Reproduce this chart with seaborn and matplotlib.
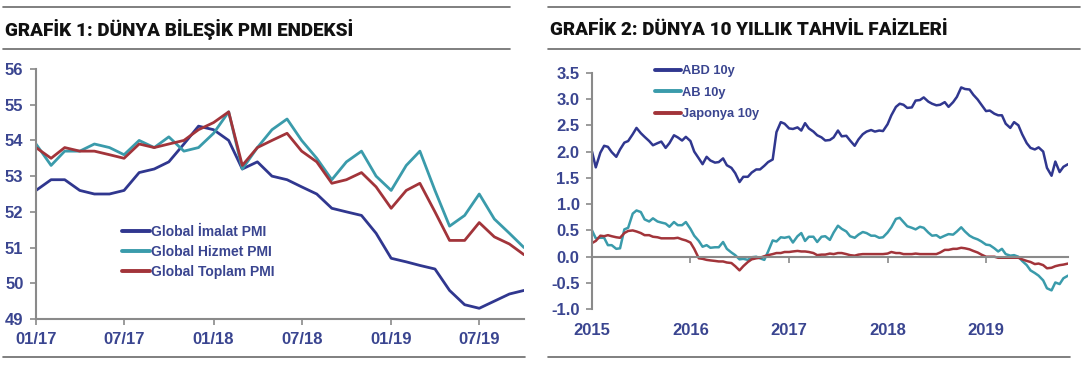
import pandas as pd
import matplotlib
matplotlib.use("Agg")
import matplotlib.pyplot as plt
import matplotlib.dates as mdates
from matplotlib.lines import Line2D
import seaborn as sns

# Grafik 1: aylik PMI, 01/2017 - 10/2019
pmi_months = pd.date_range("2017-01-01", periods=34, freq="MS")
imalat = [52.6, 52.9, 52.9, 52.6, 52.5, 52.5, 52.6, 53.1, 53.2, 53.4, 53.9, 54.4,
          54.3, 54.0, 53.2, 53.4, 53.0, 52.9, 52.7, 52.5, 52.1, 52.0, 51.9, 51.4,
          50.7, 50.6, 50.5, 50.4, 49.8, 49.4, 49.3, 49.5, 49.7, 49.8]
hizmet = [53.9, 53.3, 53.7, 53.7, 53.9, 53.8, 53.6, 54.0, 53.8, 54.1, 53.7, 53.8,
          54.2, 54.8, 53.2, 53.8, 54.3, 54.6, 54.0, 53.5, 52.9, 53.4, 53.7, 53.0,
          52.6, 53.3, 53.7, 52.6, 51.6, 51.9, 52.5, 51.8, 51.4, 51.0]
toplam = [53.8, 53.5, 53.8, 53.7, 53.7, 53.6, 53.5, 53.9, 53.8, 53.9, 54.0, 54.3,
          54.5, 54.8, 53.3, 53.8, 54.0, 54.2, 53.7, 53.4, 52.8, 52.9, 53.1, 52.7,
          52.1, 52.6, 52.8, 52.0, 51.2, 51.2, 51.7, 51.3, 51.1, 50.8]
pmi_labels = ["Global İmalat PMI", "Global Hizmet PMI", "Global Toplam PMI"]

# Grafik 2: 10 yillik tahvil faizleri, ayda iki gozlem (ayin 1'i ve 15'i)
faiz_dates = pd.date_range("2015-01-01", periods=117, freq="SMS")
abd = [2.00, 1.70, 1.98, 2.11, 2.09, 1.99, 1.90, 2.04, 2.17, 2.20,
       2.33, 2.45, 2.35, 2.28, 2.20, 2.12, 2.16, 2.19, 2.07, 2.16,
       2.31, 2.27, 2.21, 2.28, 2.20, 2.00, 1.87, 1.76, 1.90, 1.83,
       1.79, 1.80, 1.87, 1.74, 1.69, 1.59, 1.42, 1.52, 1.52, 1.60,
       1.66, 1.66, 1.73, 1.80, 1.85, 2.37, 2.56, 2.53, 2.44, 2.43,
       2.46, 2.40, 2.54, 2.44, 2.38, 2.31, 2.27, 2.21, 2.22, 2.27,
       2.40, 2.29, 2.30, 2.21, 2.11, 2.23, 2.33, 2.38, 2.41, 2.38,
       2.40, 2.39, 2.52, 2.69, 2.85, 2.91, 2.89, 2.83, 2.84, 2.97,
       2.98, 3.03, 2.95, 2.91, 2.88, 2.89, 2.94, 2.85, 2.94, 3.04,
       3.22, 3.19, 3.18, 3.08, 2.99, 2.89, 2.77, 2.78, 2.72, 2.69,
       2.69, 2.53, 2.45, 2.56, 2.50, 2.33, 2.16, 2.07, 2.04, 2.08,
       2.00, 1.69, 1.54, 1.81, 1.61, 1.71, 1.76]
ab = [0.50, 0.35, 0.36, 0.36, 0.22, 0.22, 0.15, 0.16, 0.52, 0.55,
      0.82, 0.88, 0.85, 0.71, 0.67, 0.73, 0.67, 0.65, 0.63, 0.57,
      0.66, 0.60, 0.60, 0.66, 0.53, 0.40, 0.30, 0.19, 0.22, 0.17,
      0.18, 0.18, 0.28, 0.15, 0.08, 0.03, -0.05, -0.04, -0.06, -0.01,
      0.00, -0.03, -0.06, 0.10, 0.31, 0.29, 0.37, 0.36, 0.38, 0.27,
      0.39, 0.45, 0.30, 0.38, 0.38, 0.28, 0.38, 0.39, 0.32, 0.46,
      0.59, 0.53, 0.48, 0.39, 0.36, 0.42, 0.47, 0.45, 0.40, 0.40,
      0.36, 0.37, 0.46, 0.56, 0.72, 0.74, 0.66, 0.58, 0.55, 0.52,
      0.57, 0.55, 0.46, 0.40, 0.41, 0.36, 0.40, 0.43, 0.42, 0.48,
      0.56, 0.48, 0.40, 0.36, 0.33, 0.29, 0.23, 0.22, 0.16, 0.10,
      0.15, 0.05, 0.02, 0.03, 0.00, -0.08, -0.16, -0.26, -0.31, -0.36,
      -0.45, -0.60, -0.64, -0.49, -0.52, -0.41, -0.36]
japonya = [0.26, 0.30, 0.40, 0.39, 0.41, 0.39, 0.37, 0.36, 0.45, 0.49,
           0.50, 0.48, 0.45, 0.41, 0.41, 0.38, 0.37, 0.35, 0.35, 0.35,
           0.35, 0.36, 0.33, 0.31, 0.27, 0.15, -0.03, -0.04, -0.06, -0.07,
           -0.08, -0.09, -0.09, -0.11, -0.12, -0.18, -0.26, -0.18, -0.10, -0.05,
           -0.03, -0.02, 0.01, 0.03, 0.05, 0.07, 0.07, 0.09, 0.09, 0.10,
           0.11, 0.10, 0.10, 0.09, 0.07, 0.03, 0.04, 0.04, 0.06, 0.05,
           0.07, 0.07, 0.05, 0.03, 0.02, 0.04, 0.05, 0.05, 0.05, 0.05,
           0.05, 0.05, 0.06, 0.09, 0.07, 0.07, 0.05, 0.05, 0.05, 0.06,
           0.05, 0.05, 0.05, 0.05, 0.05, 0.08, 0.13, 0.13, 0.15, 0.15,
           0.17, 0.16, 0.14, 0.11, 0.08, 0.04, 0.00, 0.00, 0.00, -0.02,
           -0.02, -0.02, -0.02, -0.02, -0.02, -0.05, -0.08, -0.10, -0.14, -0.13,
           -0.16, -0.22, -0.21, -0.18, -0.16, -0.15, -0.13]
faiz_labels = ["ABD 10y", "AB 10y", "Japonya 10y"]

NAVY = "#30378f"
TEAL = "#3a9bab"
RED = "#a2343a"
LABEL = "#3a4590"
SPINE = "#8a8a8a"
RULE = "#6a6a6a"

sns.set_theme(style="white")
plt.rcParams["font.family"] = ["Liberation Sans", "DejaVu Sans"]
plt.rcParams["font.weight"] = "bold"
plt.rcParams["axes.unicode_minus"] = False

W, H = 1088, 370
fig = plt.figure(figsize=(W / 100, H / 100), dpi=100)


def fx(px):
    return px / W


def fy(py):
    return 1 - py / H


def rule(x0, x1, y):
    fig.add_artist(Line2D([fx(x0), fx(x1)], [fy(y), fy(y)], transform=fig.transFigure,
                          color=RULE, lw=1.2))


# basliklar ve cizgiler
for x0, x1, title in [(3, 510, "GRAFİK 1: DÜNYA BİLEŞİK PMI ENDEKSİ"),
                      (548, 1080, "GRAFİK 2: DÜNYA 10 YILLIK TAHVİL FAİZLERİ")]:
    rule(x0, x1, 7)
    rule(x0, x1, 49)
    rule(x0, x1 + 15 if x0 < 500 else x1 - 10, 357)
    fig.text(fx(x0 + 2), fy(30), title, ha="left", va="center", fontsize=13.6,
             fontweight="heavy", family=["Roboto", "DejaVu Sans"], color="#111111")


def style_axes(ax):
    sns.despine(ax=ax)
    for side in ["left", "bottom"]:
        ax.spines[side].set_color(SPINE)
        ax.spines[side].set_linewidth(1.5)
    ax.tick_params(axis="both", direction="out", length=4, width=1.2, color=SPINE,
                   labelcolor=LABEL, labelsize=12, left=True, bottom=True)
    ax.set_xlabel("")
    ax.set_ylabel("")
    ax.grid(False)


def add_legend(ax, x, y, size, spacing):
    leg = ax.legend(loc="upper left", bbox_to_anchor=(fx(x), fy(y)),
                    bbox_transform=fig.transFigure, frameon=False, fontsize=size,
                    handlelength=2.0, handletextpad=0.1, labelspacing=spacing,
                    borderpad=0, borderaxespad=0, labelcolor=LABEL)
    for h in leg.get_lines():
        h.set_linewidth(2.8)


# ---- Grafik 1 ----
ax1 = fig.add_axes([fx(36), fy(319), fx(524 - 36), (319 - 69) / H])
df1 = pd.DataFrame({"ay": pmi_months, pmi_labels[0]: imalat,
                    pmi_labels[1]: hizmet, pmi_labels[2]: toplam})
for col, color in zip(pmi_labels, [NAVY, TEAL, RED]):
    sns.lineplot(data=df1, x="ay", y=col, ax=ax1, color=color, lw=2.0, label=col)
ax1.set_xlim(pmi_months[0], pmi_months[-1])
ax1.set_ylim(49, 56)
ax1.set_yticks(range(49, 57))
ax1.set_xticks(pmi_months[::6])
ax1.xaxis.set_major_formatter(mdates.DateFormatter("%m/%y"))
style_axes(ax1)
ax1.tick_params(axis="x", pad=5)
ax1.tick_params(axis="y", pad=5)
add_legend(ax1, 122, 225, 10, 0.42)

# ---- Grafik 2 ----
ax2 = fig.add_axes([fx(592), fy(309.3), fx(1068 - 592), (309.3 - 72.7) / H])
df2 = pd.DataFrame({"tarih": faiz_dates, faiz_labels[0]: abd,
                    faiz_labels[1]: ab, faiz_labels[2]: japonya})
for col, color in zip(faiz_labels, [NAVY, TEAL, RED]):
    sns.lineplot(data=df2, x="tarih", y=col, ax=ax2, color=color, lw=1.8, label=col)
ax2.set_xlim(faiz_dates[0], faiz_dates[-1])
ax2.set_ylim(-1.0, 3.5)
ax2.set_yticks([-1.0, -0.5, 0.0, 0.5, 1.0, 1.5, 2.0, 2.5, 3.0, 3.5])
ax2.yaxis.set_major_formatter(matplotlib.ticker.FormatStrFormatter("%.1f"))
ax2.xaxis.set_major_locator(mdates.YearLocator())
ax2.xaxis.set_major_formatter(mdates.DateFormatter("%Y"))
style_axes(ax2)
ax2.spines["bottom"].set_position(("data", 0))
ax2.tick_params(axis="x", pad=44)
ax2.tick_params(axis="y", pad=5)
add_legend(ax2, 655, 65, 9.3, 0.75)

fig.savefig("out.png", dpi=100)
